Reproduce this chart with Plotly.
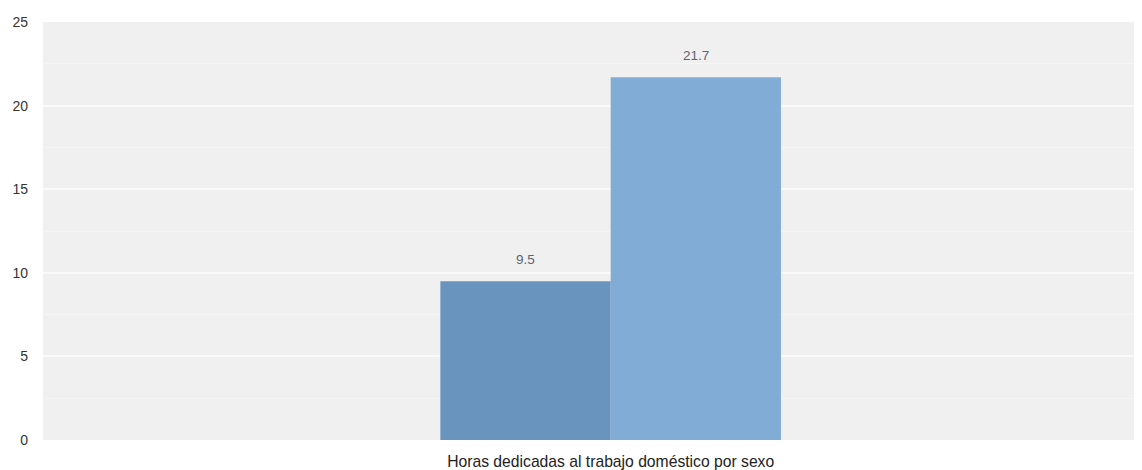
import plotly.graph_objects as go

categories = ["Horas dedicadas al trabajo doméstico por sexo"]
series_names = ["Hombres", "Mujeres"]
series_values = [[9.5], [21.7]]
series_colors = ["#6894be", "#80acd6"]
y_ticks = [0, 5, 10, 15, 20, 25]

FONT = "Liberation Sans, Arial, sans-serif"
FIG_W, FIG_H = 1142, 470
M_L, M_R, M_T, M_B = 35, 8, 14, 38
X_RANGE = [-0.5, 0.468]
BARGAP = 0.7

fig = go.Figure()
for name, vals, col in zip(series_names, series_values, series_colors):
    fig.add_trace(go.Bar(
        x=categories, y=vals, name=name,
        marker=dict(color=col, line=dict(width=0)),
        cliponaxis=False,
    ))

# value labels above each bar
px_per_unit = (FIG_W - M_L - M_R) / (X_RANGE[1] - X_RANGE[0])
bar_w_px = (1 - BARGAP) / len(series_names) * px_per_unit
annotations = []
for i, vals in enumerate(series_values):
    shift = (i - (len(series_names) - 1) / 2) * bar_w_px
    for cat, v in zip(categories, vals):
        annotations.append(dict(
            x=cat, y=v, text=str(v), showarrow=False,
            xanchor="center", yanchor="bottom",
            xshift=shift, yshift=12,
            font=dict(family=FONT, size=13.5, color="#5b6470"),
        ))

# page body has an 8px default margin, so the figure is offset by 8px on screen
fig.update_layout(
    width=FIG_W, height=FIG_H,
    margin=dict(l=M_L, r=M_R, t=M_T, b=M_B),
    paper_bgcolor="white",
    plot_bgcolor="#f0f0f0",
    barmode="group",
    bargap=BARGAP,
    bargroupgap=0,
    showlegend=False,
    annotations=annotations,
    font=dict(family=FONT, color="#333333"),
    xaxis=dict(
        type="category",
        range=X_RANGE,
        showgrid=False, zeroline=False, showline=False,
        tickfont=dict(size=15.7, color="#222222"),
        ticklabelstandoff=10,
        automargin=False,
    ),
    yaxis=dict(
        range=[0, 25],
        tickvals=y_ticks,
        showgrid=True, gridcolor="#fafafa", gridwidth=2,
        minor=dict(dtick=2.5, showgrid=True, gridcolor="#f5f5f5", gridwidth=1),
        zeroline=False, showline=False,
        tickfont=dict(size=14, color="#333333"),
        ticklabelstandoff=14,
        automargin=False,
    ),
)

fig.write_html("out.html")
